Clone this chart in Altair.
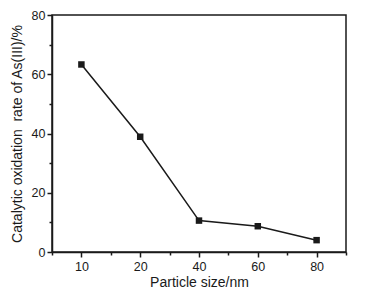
import altair as alt
import pandas as pd

sizes = ["10", "20", "40", "60", "80"]
rates = [63.3, 38.9, 10.6, 8.7, 4.0]

df = pd.DataFrame({"idx": list(range(len(sizes))), "size": sizes, "rate": rates})

label_expr = "[" + ",".join("'" + s + "'" for s in sizes) + "][datum.value]"
font = "Liberation Sans"
ink = "#1a1a1a"

xscale = alt.Scale(domain=[-0.5, len(sizes) - 0.5], nice=False, zero=False)
yscale = alt.Scale(domain=[0, 80], nice=False)

line = alt.Chart(df).mark_line(color=ink, strokeWidth=1.5).encode(
    x=alt.X("idx:Q", scale=xscale,
            axis=alt.Axis(values=list(range(len(sizes))), labelExpr=label_expr,
                          title="Particle size/nm", orient="bottom",
                          tickSize=5, tickWidth=1.5, domainWidth=1.5,
                          labelPadding=3, titlePadding=3, grid=False)),
    y=alt.Y("rate:Q", scale=yscale,
            axis=alt.Axis(values=[0, 20, 40, 60, 80],
                          title="Catalytic oxidation\u00a0 rate of As(III)/%",
                          orient="left", tickSize=5, tickWidth=1.5,
                          domainWidth=1.5, labelPadding=2, titlePadding=7,
                          grid=False)),
)

points = alt.Chart(df).mark_point(shape="square", filled=True, color=ink,
                                  size=42, opacity=1).encode(
    x=alt.X("idx:Q", scale=xscale,
            axis=alt.Axis(values=[-0.5, 0.5, 1.5, 2.5, 3.5, 4.5], labels=False,
                          title=None, orient="bottom", tickSize=3,
                          tickWidth=1.5, domain=False, grid=False)),
    y=alt.Y("rate:Q", scale=yscale,
            axis=alt.Axis(values=[10, 30, 50, 70], labels=False, title=None,
                          orient="left", tickSize=3, tickWidth=1.5,
                          domain=False, grid=False)),
)

chart = alt.layer(line, points).resolve_scale(
    x="independent", y="independent"
).resolve_axis(
    x="independent", y="independent"
).properties(
    width=294, height=237,
    padding={"left": 52, "top": 15, "right": 22, "bottom": 45},
    autosize=alt.AutoSizeParams(type="none"),
    background="white",
).configure_view(
    stroke=ink, strokeWidth=1.5
).configure_axis(
    domainColor=ink, tickColor=ink, labelColor=ink, titleColor=ink,
    labelFont=font, titleFont=font, labelFontSize=12.5, titleFontSize=14,
    titleFontWeight="normal",
)

chart.save("out.html", embed_options={"renderer": "svg", "actions": False})
